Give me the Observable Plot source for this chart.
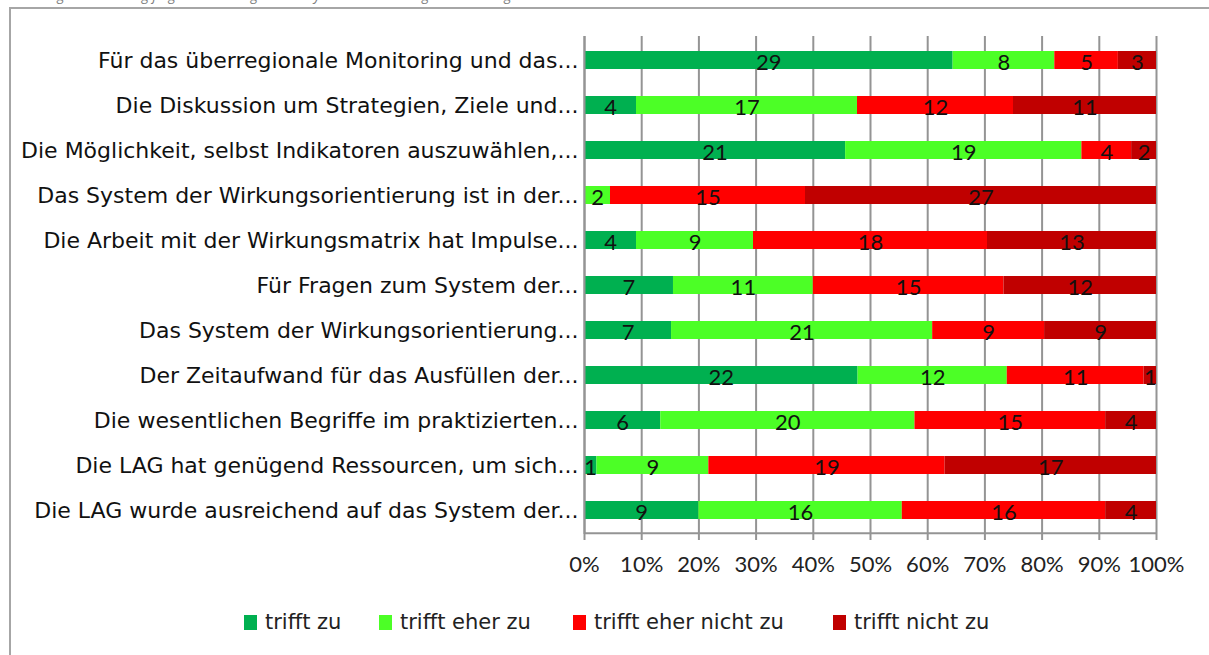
<!DOCTYPE html>
<html>
<head>
<meta charset="utf-8">
<script src="https://cdn.jsdelivr.net/npm/d3@7"></script>
<script src="https://cdn.jsdelivr.net/npm/@observablehq/plot@0.6"></script>
<style>
  html, body { margin: 0; padding: 0; background: #fff; }
  #wrap { position: relative; width: 1209px; height: 655px; overflow: hidden; background: #fff; }
  #frame { position: absolute; left: 9px; top: 7px; width: 1300px; height: 700px; border-left: 2px solid #a6a6a6; border-top: 2px solid #a6a6a6; box-sizing: border-box; }
  #cap { position: absolute; left: 0; top: 0; width: 1209px; height: 5px; overflow: hidden; }
  #cap span { position: absolute; left: 2px; top: -15px; font: italic 14px "Open Sans", sans-serif; color: #808080; white-space: nowrap; }
  #chart { position: absolute; left: 0; top: 0; }
  #legend { position: absolute; top: 608px; left: 0; width: 1209px; height: 30px; font: 21px "DejaVu Sans", sans-serif; color: #222; }
  .li { position: absolute; top: 0; display: flex; align-items: center; height: 28px; white-space: nowrap; }
  .sw { width: 13px; height: 15px; margin-right: 8px; }
</style>
</head>
<body>
<div id="wrap">
  <div id="cap"><span>Abbildung 5: Bewertung folgender Aussagen zum System der Wirkungsorientierung</span></div>
  <div id="frame"></div>
  <div id="chart"></div>
  <div id="legend"></div>
</div>
<script>
const questions = [
  "Für das überregionale Monitoring und das...",
  "Die Diskussion um Strategien, Ziele und...",
  "Die Möglichkeit, selbst Indikatoren auszuwählen,...",
  "Das System der Wirkungsorientierung ist in der...",
  "Die Arbeit mit der Wirkungsmatrix hat Impulse...",
  "Für Fragen zum System der...",
  "Das System der Wirkungsorientierung...",
  "Der Zeitaufwand für das Ausfüllen der...",
  "Die wesentlichen Begriffe im praktizierten...",
  "Die LAG hat genügend Ressourcen, um sich...",
  "Die LAG wurde ausreichend auf das System der..."
];
const categories = ["trifft zu", "trifft eher zu", "trifft eher nicht zu", "trifft nicht zu"];
const colors = ["#00b050", "#4cff26", "#ff0000", "#c00000"];
const trifftZu =          [29, 4, 21, 0, 4, 7, 7, 22, 6, 1, 9];
const trifftEherZu =      [8, 17, 19, 2, 9, 11, 21, 12, 20, 9, 16];
const trifftEherNichtZu = [5, 12, 4, 15, 18, 15, 9, 11, 15, 19, 16];
const trifftNichtZu =     [3, 11, 2, 27, 13, 12, 9, 1, 4, 17, 4];
const xTicks = [0, 0.1, 0.2, 0.3, 0.4, 0.5, 0.6, 0.7, 0.8, 0.9, 1];

const series = [trifftZu, trifftEherZu, trifftEherNichtZu, trifftNichtZu];
const rows = [];
questions.forEach((q, i) => {
  categories.forEach((c, j) => {
    rows.push({q, cat: c, value: series[j][i]});
  });
});

const stackOpts = {x: "value", y: "q", z: "cat", offset: "normalize", order: categories};
const pct = d3.format(".0%");
const half = 498 / 11 / 2;

const marks = [
  Plot.gridX(xTicks, {stroke: "#949494", strokeOpacity: 1, strokeWidth: 2}),
  Plot.barX(rows, Plot.stackX({...stackOpts, fill: "cat"})),
  Plot.text(rows, Plot.stackX({...stackOpts, text: d => d.value > 0 ? String(d.value) : "", fill: "#111", fontSize: 22, fontFamily: "Lato, sans-serif", dy: 2})),
  Plot.ruleY([questions[questions.length - 1]], {stroke: "#949494", strokeWidth: 2, dy: half}),
  Plot.ruleX([0], {stroke: "#949494", strokeWidth: 2}),
  Plot.axisX(xTicks, {tickSize: 6, tickPadding: 16, stroke: "#949494", strokeWidth: 2, fontSize: 22, fontFamily: "Lato, sans-serif", fill: "#222", tickFormat: pct}),
  Plot.axisY({tickSize: 0, tickPadding: 6, fontSize: 22, fontFamily: "DejaVu Sans, sans-serif", fill: "#111"})
];
if (typeof Plot.axisTickY === "function") {
  marks.push(Plot.axisTickY({tickSize: 6, stroke: "#949494", strokeWidth: 2, dy: -half}));
}

const chart = Plot.plot({
  width: 1209,
  height: 600,
  marginLeft: 584,
  marginRight: 53,
  marginTop: 36,
  marginBottom: 66,
  style: {background: "transparent", overflow: "visible"},
  x: {domain: [0, 1], label: null},
  y: {domain: questions, paddingInner: 0.6, paddingOuter: 0.3, label: null},
  color: {domain: categories, range: colors},
  marks
});
document.getElementById("chart").appendChild(chart);

const legend = document.getElementById("legend");
const legendX = [244, 379, 573, 833];
categories.forEach((c, i) => {
  const el = document.createElement("div");
  el.className = "li";
  el.style.left = legendX[i] + "px";
  el.innerHTML = `<div class="sw" style="background:${colors[i]}"></div><span>${c}</span>`;
  legend.appendChild(el);
});
</script>
</body>
</html>
